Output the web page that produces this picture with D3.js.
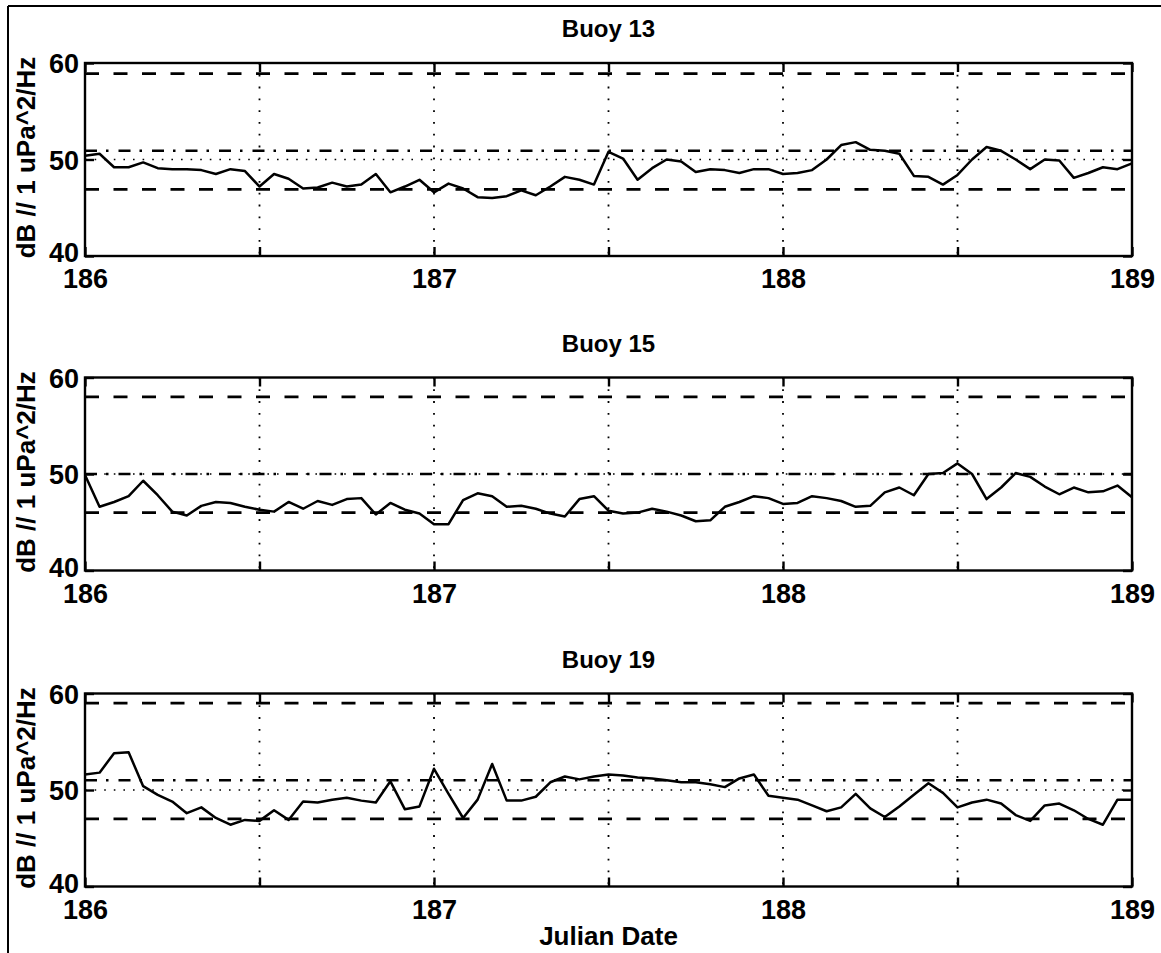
<!DOCTYPE html>
<html>
<head>
<meta charset="utf-8">
<script src="https://cdn.jsdelivr.net/npm/d3@7"></script>
<style>
  html, body { margin: 0; padding: 0; background: #fff; }
  svg { display: block; }
  text { font-family: "Liberation Sans", Arial, Helvetica, sans-serif; fill: #000; }
</style>
</head>
<body>
<svg id="chart" width="1161" height="953"></svg>
<script>
// Hourly ambient noise level (dB // 1 uPa^2/Hz), Julian days 186–189
const startDay = 186;
const endDay = 189;
const samplesPerDay = 24;

const buoyNames = ["Buoy 13", "Buoy 15", "Buoy 19"];

const buoy13 = [
  50.4, 50.6, 49.2, 49.2, 49.7, 49.1, 49.0, 49.0, 48.9, 48.5, 49.0, 48.8,
  47.2, 48.5, 48.0, 47.0, 47.1, 47.6, 47.2, 47.4, 48.5, 46.6, 47.2, 47.9,
  46.6, 47.5, 47.0, 46.1, 46.0, 46.2, 46.8, 46.3, 47.2, 48.2, 47.9, 47.4,
  50.8, 50.1, 47.9, 49.1, 50.0, 49.8, 48.7, 49.0, 48.9, 48.6, 49.0, 49.0,
  48.5, 48.6, 48.9, 50.0, 51.5, 51.8, 51.0, 50.9, 50.6, 48.3, 48.2, 47.4,
  48.4, 50.0, 51.3, 50.9, 50.0, 49.0, 50.0, 49.9, 48.1, 48.6, 49.2, 49.0,
  49.6
];

const buoy15 = [
  49.9, 46.6, 47.1, 47.7, 49.3, 47.8, 46.1, 45.7, 46.7, 47.1, 47.0, 46.6,
  46.3, 46.1, 47.1, 46.4, 47.2, 46.8, 47.4, 47.5, 45.8, 47.0, 46.3, 45.9,
  44.8, 44.8, 47.3, 48.0, 47.7, 46.6, 46.7, 46.4, 45.9, 45.6, 47.4, 47.7,
  46.2, 45.9, 46.0, 46.4, 46.1, 45.7, 45.1, 45.2, 46.6, 47.1, 47.7, 47.5,
  46.9, 47.0, 47.7, 47.5, 47.2, 46.6, 46.7, 48.1, 48.6, 47.8, 50.0, 50.1,
  51.1, 50.0, 47.4, 48.6, 50.1, 49.7, 48.7, 47.9, 48.6, 48.1, 48.2, 48.8,
  47.6
];

const buoy19 = [
  51.6, 51.8, 53.8, 53.9, 50.4, 49.5, 48.8, 47.6, 48.2, 47.1, 46.4, 46.9,
  46.8, 47.9, 46.9, 48.8, 48.7, 49.0, 49.2, 48.9, 48.7, 50.9, 48.0, 48.3,
  52.2, 49.6, 47.1, 49.0, 52.7, 48.9, 48.9, 49.3, 50.8, 51.4, 51.1, 51.4,
  51.6, 51.5, 51.3, 51.2, 51.0, 50.8, 50.8, 50.6, 50.3, 51.2, 51.6, 49.4,
  49.2, 49.0, 48.4, 47.8, 48.2, 49.6, 48.1, 47.2, 48.3, 49.5, 50.7, 49.7,
  48.2, 48.7, 49.0, 48.6, 47.4, 46.8, 48.4, 48.6, 47.9, 47.0, 46.4, 49.0,
  49.0
];

// Threshold levels drawn across each panel
const upperLimits = [58.9, 58.0, 59.0];   // dashed
const midLevels   = [50.9, 50.0, 51.0];   // dash-dot
const lowerLimits = [46.9, 46.0, 47.0];   // dashed

const xTicks = [186, 186.5, 187, 187.5, 188, 188.5, 189];
const xTickLabels = ["186", "", "187", "", "188", "", "189"];
const yTicks = [40, 50, 60];
const yDomain = [40, 60];

const series = [buoy13, buoy15, buoy19];

// Layout
const W = 1161, H = 953;
const plotLeft = 85, plotRight = 1132;
const panelTops = [63, 377.5, 693.5];
const panelHeight = 193;
const FONT = '"Liberation Sans", Arial, Helvetica, sans-serif';

const svg = d3.select("#chart");

// page frame (top and left edges)
svg.append("line").attr("x1", 8).attr("y1", 6).attr("x2", W).attr("y2", 6)
  .attr("stroke", "#000").attr("stroke-width", 2);
svg.append("line").attr("x1", 8).attr("y1", 6).attr("x2", 8).attr("y2", H)
  .attr("stroke", "#000").attr("stroke-width", 2);

const x = d3.scaleLinear().domain([startDay, endDay]).range([plotLeft, plotRight]);

series.forEach((vals, k) => {
  const top = panelTops[k];
  const y = d3.scaleLinear().domain(yDomain).range([top + panelHeight, top]);
  const g = svg.append("g");
  const pts = vals.map((v, i) => [startDay + i / samplesPerDay, v]);

  // dotted grid
  xTicks.slice(1, -1).forEach(t => {
    g.append("line")
      .attr("x1", x(t)).attr("x2", x(t))
      .attr("y1", y(yDomain[1])).attr("y2", y(yDomain[0]))
      .attr("stroke", "#000").attr("stroke-width", 1.8)
      .attr("stroke-dasharray", "1.8 10");
  });
  yTicks.slice(1, -1).forEach(t => {
    g.append("line")
      .attr("x1", x(startDay)).attr("x2", x(endDay))
      .attr("y1", y(t)).attr("y2", y(t))
      .attr("stroke", "#000").attr("stroke-width", 1.6)
      .attr("stroke-dasharray", "1.6 8");
  });

  // threshold lines
  const hline = (v, dash, w) => g.append("line")
    .attr("x1", x(startDay)).attr("x2", x(endDay))
    .attr("y1", y(v)).attr("y2", y(v))
    .attr("stroke", "#000").attr("stroke-width", w)
    .attr("stroke-dasharray", dash);
  hline(upperLimits[k], "14 14.5", 2.8);
  hline(lowerLimits[k], "14 14.5", 2.8);
  hline(midLevels[k], "12 9 2.5 10", 2.5);

  // noise level trace
  g.append("path")
    .datum(pts)
    .attr("fill", "none")
    .attr("stroke", "#000")
    .attr("stroke-width", 2.5)
    .attr("stroke-linejoin", "round")
    .attr("d", d3.line().x(d => x(d[0])).y(d => y(d[1])));

  // axes box
  g.append("rect")
    .attr("x", x(startDay)).attr("y", y(yDomain[1]))
    .attr("width", x(endDay) - x(startDay))
    .attr("height", y(yDomain[0]) - y(yDomain[1]))
    .attr("fill", "none").attr("stroke", "#000").attr("stroke-width", 2.4);

  // inward ticks on all four sides
  const bottomAxis = d3.axisBottom(x).tickValues(xTicks)
    .tickFormat((d, i) => xTickLabels[i]).tickSizeInner(-9).tickSizeOuter(0);
  const topAxis = d3.axisTop(x).tickValues(xTicks)
    .tickFormat("").tickSizeInner(-9).tickSizeOuter(0);
  const leftAxis = d3.axisLeft(y).tickValues(yTicks)
    .tickFormat(d3.format("d")).tickSizeInner(-9).tickSizeOuter(0).tickPadding(6);
  const rightAxis = d3.axisRight(y).tickValues(yTicks)
    .tickFormat("").tickSizeInner(-9).tickSizeOuter(0);

  const styleAxis = sel => {
    sel.select(".domain").remove();
    sel.selectAll(".tick line").attr("stroke", "#000").attr("stroke-width", 2.4);
    sel.selectAll(".tick text")
      .attr("font-family", FONT)
      .attr("font-size", 27).attr("font-weight", "bold").attr("fill", "#000");
  };

  g.append("g").attr("transform", `translate(0,${y(yDomain[0])})`).call(bottomAxis).call(styleAxis)
    .selectAll(".tick text").attr("dy", "0.71em").attr("y", 13);
  g.append("g").attr("transform", `translate(0,${y(yDomain[1])})`).call(topAxis).call(styleAxis);
  g.append("g").attr("transform", `translate(${x(startDay)},0)`).call(leftAxis).call(styleAxis)
    .selectAll(".tick text").attr("dy", d => d === yDomain[0] ? "0.22em" : "0.36em");
  g.append("g").attr("transform", `translate(${x(endDay)},0)`).call(rightAxis).call(styleAxis);

  // panel title
  g.append("text")
    .attr("x", (plotLeft + plotRight) / 2).attr("y", top - 26)
    .attr("text-anchor", "middle")
    .attr("font-size", 24).attr("font-weight", "bold")
    .text(buoyNames[k]);

  // y-axis label
  g.append("text")
    .attr("transform", `translate(35,${top + panelHeight / 2 - 2}) rotate(-90)`)
    .attr("text-anchor", "middle")
    .attr("font-size", 26).attr("font-weight", "bold")
    .text("dB // 1 uPa^2/Hz");
});

svg.append("text")
  .attr("x", (plotLeft + plotRight) / 2).attr("y", 945)
  .attr("text-anchor", "middle")
  .attr("font-size", 26).attr("font-weight", "bold")
  .text("Julian Date");
</script>
</body>
</html>
